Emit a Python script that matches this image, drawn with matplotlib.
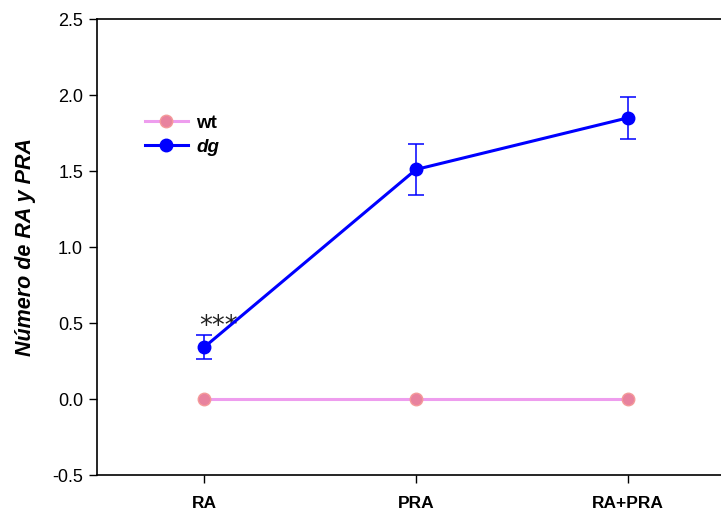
import matplotlib
matplotlib.use("Agg")
import matplotlib.pyplot as plt
from matplotlib.lines import Line2D

plt.rcParams['font.family'] = ['Liberation Sans', 'DejaVu Sans']

categories = ["RA", "PRA", "RA+PRA"]
wt_values = [0.0, 0.0, 0.0]
dg_values = [0.34, 1.51, 1.85]
dg_err = [0.08, 0.165, 0.14]
yticks = [-0.5, 0.0, 0.5, 1.0, 1.5, 2.0, 2.5]

W, H = 721, 513
fig = plt.figure(figsize=(W / 100, H / 100), dpi=100)
ax = fig.add_axes([97 / W, 1 - 475 / H, (734 - 97) / W, (475 - 19) / H])

wt_style = dict(color='#EE9DEE', lw=2.2, marker='o', ms=9,
                markerfacecolor='#E8829E', markeredgecolor='#F49A9A', markeredgewidth=1)
dg_style = dict(color='#0000FF', lw=2.2, marker='o', ms=9)

x = list(range(len(categories)))
ax.plot(x, wt_values, zorder=3, **wt_style)
ax.errorbar(x, dg_values, yerr=dg_err, elinewidth=1.1, capsize=6, capthick=1.1,
            zorder=4, **dg_style)

ax.text(x[0] + 0.07, dg_values[0] + 0.085, '***', fontsize=18.5, color='#222222',
        family='DejaVu Sans', ha='center', va='baseline', zorder=2)

ax.set_xlim(-0.505, 2.5)
ax.set_ylim(-0.5, 2.5)
ax.set_yticks(yticks)
ax.set_yticklabels([f"{v:.1f}" for v in yticks], fontsize=13)
ax.set_xticks(x)
ax.set_xticklabels(categories, fontsize=12.5, fontweight='bold')
ax.tick_params(direction='out', length=6, width=1, pad=4)
ax.tick_params(axis='x', pad=9)
for s in ['left', 'bottom', 'top', 'right']:
    ax.spines[s].set_linewidth(1.2)

ax.set_ylabel('Número de RA y PRA', fontsize=15.5, fontweight='bold', style='italic', labelpad=12)

handles = [Line2D([], [], **wt_style), Line2D([], [], **dg_style)]
leg = ax.legend(handles, ['wt', 'dg'], loc='upper left', bbox_to_anchor=(0.075, 0.79),
                frameon=False, fontsize=13.5, handlelength=2.3, labelspacing=0.35,
                handletextpad=0.45, borderpad=0, borderaxespad=0)
for t in leg.get_texts():
    t.set_fontweight('bold')
leg.get_texts()[1].set_style('italic')

fig.savefig('out.png', dpi=100)
